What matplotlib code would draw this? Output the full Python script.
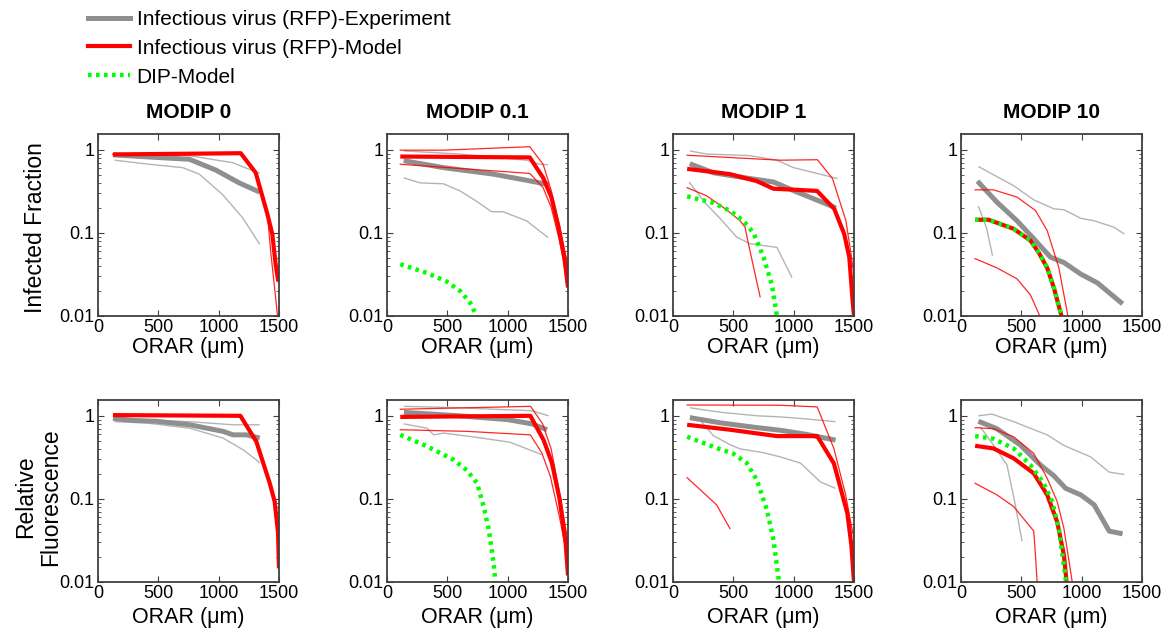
import matplotlib
matplotlib.use("Agg")
import matplotlib.pyplot as plt
from matplotlib.lines import Line2D
from matplotlib.ticker import FixedLocator, NullFormatter, LogLocator

plt.rcParams['font.family'] = ['Liberation Sans', 'DejaVu Sans']

# ---------------- data (x = ORAR in um, y = value) ----------------
col_titles = ["MODIP 0", "MODIP 0.1", "MODIP 1", "MODIP 10"]
row_labels = ["Infected Fraction", "Relative\nFluorescence"]
x_ticks = [0, 500, 1000, 1500]
y_ticks = [0.01, 0.1, 1]
y_tick_labels = ["0.01", "0.1", "1"]
legend_labels = ["Infectious virus (RFP)-Experiment",
                 "Infectious virus (RFP)-Model", "DIP-Model"]

# Row A: Infected Fraction
A0_exp_mean = [(124, 0.87), (482, 0.81), (757, 0.77), (977, 0.57), (1170, 0.40), (1340, 0.31)]
A0_exp_thin1 = [(138, 0.90), (757, 0.85), (1115, 0.70), (1340, 0.52)]
A0_exp_thin2 = [(138, 0.75), (427, 0.67), (702, 0.61), (839, 0.51), (1032, 0.29), (1197, 0.153), (1340, 0.073)]
A0_mod_mean = [(124, 0.88), (1183, 0.91), (1307, 0.53), (1404, 0.168), (1445, 0.096), (1472, 0.042), (1494, 0.026)]
A0_mod_thin1 = [(124, 0.88), (1183, 0.91), (1307, 0.53), (1404, 0.168), (1431, 0.06), (1488, 0.01)]
A0_mod_thin2 = [(124, 0.88), (1183, 0.91), (1307, 0.53), (1404, 0.168), (1445, 0.096), (1472, 0.042), (1494, 0.026)]
A0_dip = []

A1_exp_mean = [(138, 0.74), (468, 0.61), (881, 0.51), (1156, 0.43), (1307, 0.39), (1340, 0.38)]
A1_exp_thin1 = [(138, 0.97), (605, 0.89), (1156, 0.75), (1266, 0.67), (1335, 0.66)]
A1_exp_thin2 = [(138, 0.46), (275, 0.40), (468, 0.39), (605, 0.32), (743, 0.24), (867, 0.18), (960, 0.18), (1156, 0.14), (1335, 0.088)]
A1_mod_mean = [(110, 0.83), (1183, 0.81), (1294, 0.46), (1362, 0.27), (1420, 0.12), (1470, 0.05), (1500, 0.022)]
A1_mod_thin1 = [(110, 0.99), (468, 0.99), (1183, 1.09), (1294, 0.67), (1362, 0.32), (1430, 0.12), (1500, 0.04)]
A1_mod_thin2 = [(110, 0.67), (1183, 0.52), (1294, 0.35), (1362, 0.2), (1430, 0.08), (1500, 0.025)]
A1_dip = [(110, 0.042), (330, 0.033), (495, 0.026), (606, 0.020), (688, 0.0145), (743, 0.010)]

A2_exp_mean = [(139, 0.68), (333, 0.53), (556, 0.47), (833, 0.41), (1028, 0.31), (1250, 0.23), (1350, 0.20)]
A2_exp_thin1 = [(139, 0.97), (278, 0.89), (639, 0.85), (861, 0.75), (1000, 0.61), (1194, 0.52), (1364, 0.45)]
A2_exp_thin2 = [(133, 0.41), (278, 0.22), (389, 0.15), (528, 0.089), (639, 0.074), (861, 0.067), (986, 0.029)]
A2_mod_mean = [(117, 0.59), (472, 0.51), (694, 0.42), (833, 0.34), (1028, 0.33), (1194, 0.32), (1336, 0.195), (1419, 0.097), (1461, 0.051), (1489, 0.015), (1500, 0.01)]
A2_mod_thin1 = [(117, 0.86), (889, 0.75), (1197, 0.76), (1322, 0.45), (1433, 0.14), (1475, 0.056), (1500, 0.032)]
A2_mod_thin2 = [(117, 0.35), (278, 0.28), (444, 0.19), (556, 0.14), (597, 0.117), (625, 0.074), (722, 0.017)]
A2_dip = [(117, 0.275), (333, 0.23), (472, 0.185), (583, 0.14), (667, 0.10), (750, 0.051), (819, 0.024), (861, 0.01)]

A3_exp_mean = [(136, 0.42), (297, 0.235), (464, 0.14), (603, 0.085), (742, 0.051), (853, 0.044), (992, 0.032), (1131, 0.025), (1339, 0.014)]
A3_exp_thin1 = [(144, 0.63), (436, 0.37), (603, 0.25), (769, 0.195), (853, 0.19), (992, 0.15), (1103, 0.14), (1269, 0.117), (1353, 0.097)]
A3_exp_thin2 = [(144, 0.21), (214, 0.112), (261, 0.053)]
A3_mod_mean = [(117, 0.144), (228, 0.144), (436, 0.112), (575, 0.081), (644, 0.058), (714, 0.038), (769, 0.022), (833, 0.01)]
A3_mod_thin1 = [(117, 0.33), (269, 0.33), (464, 0.27), (617, 0.186), (714, 0.107), (811, 0.038), (886, 0.01)]
A3_mod_thin2 = [(117, 0.049), (297, 0.038), (464, 0.028), (575, 0.018), (653, 0.01)]
A3_dip = [(117, 0.144), (228, 0.144), (436, 0.112), (575, 0.081), (644, 0.058), (714, 0.038), (769, 0.022), (833, 0.01)]

# Row B: Relative Fluorescence
B0_exp_mean = [(124, 0.93), (290, 0.88), (483, 0.86), (760, 0.78), (1036, 0.65), (1119, 0.59), (1229, 0.59), (1340, 0.54)]
B0_exp_thin1 = [(138, 0.92), (760, 0.85), (1119, 0.78), (1340, 0.78)]
B0_exp_thin2 = [(138, 0.85), (400, 0.82), (760, 0.71), (1036, 0.54), (1202, 0.39), (1312, 0.295), (1340, 0.27)]
B0_mod_mean = [(124, 1.02), (1180, 1.0), (1312, 0.49), (1423, 0.155), (1464, 0.093), (1492, 0.039), (1500, 0.0146)]
B0_mod_thin1 = []
B0_mod_thin2 = []
B0_dip = []

B1_exp_mean = [(140, 1.1), (600, 1.0), (1000, 0.9), (1200, 0.8), (1326, 0.68)]
B1_exp_thin1 = [(140, 1.3), (600, 1.25), (1200, 1.15), (1340, 1.0)]
B1_exp_thin2 = [(138, 0.8), (331, 0.71), (387, 0.59), (470, 0.62), (746, 0.55), (1022, 0.48), (1284, 0.34)]
B1_mod_mean = [(110, 0.97), (1188, 1.0), (1298, 0.51), (1367, 0.27), (1430, 0.1), (1480, 0.03), (1500, 0.012)]
B1_mod_thin1 = [(110, 1.2), (1190, 1.3), (1290, 0.8), (1360, 0.4), (1440, 0.1), (1500, 0.03)]
B1_mod_thin2 = [(110, 0.68), (663, 0.65), (1188, 0.59), (1284, 0.355), (1354, 0.186), (1430, 0.06), (1500, 0.018)]
B1_dip = [(110, 0.59), (331, 0.43), (553, 0.295), (663, 0.22), (746, 0.155), (801, 0.081), (843, 0.043), (884, 0.0168), (898, 0.01)]

B2_exp_mean = [(140, 0.95), (400, 0.82), (700, 0.72), (889, 0.67), (1100, 0.6), (1347, 0.51)]
B2_exp_thin1 = [(140, 1.25), (400, 1.1), (700, 1.0), (889, 0.97), (1056, 0.93), (1347, 0.85)]
B2_exp_thin2 = [(140, 1.0), (220, 0.9), (278, 0.72), (333, 0.58), (472, 0.45), (556, 0.40), (750, 0.36), (889, 0.32), (1056, 0.27), (1222, 0.16), (1347, 0.134)]
B2_mod_mean = [(117, 0.78), (472, 0.68), (861, 0.57), (1195, 0.57), (1333, 0.268), (1445, 0.067), (1478, 0.028), (1500, 0.01)]
B2_mod_thin1 = [(117, 1.35), (889, 1.34), (1195, 1.28), (1333, 0.405), (1431, 0.112), (1472, 0.053), (1500, 0.034)]
B2_mod_thin2 = [(117, 0.18), (361, 0.085), (472, 0.044)]
B2_dip = [(117, 0.56), (361, 0.41), (500, 0.35), (611, 0.27), (694, 0.17), (778, 0.074), (833, 0.032), (875, 0.011), (880, 0.01)]

B3_exp_mean = [(144, 0.86), (297, 0.70), (492, 0.445), (658, 0.256), (769, 0.19), (867, 0.134), (992, 0.112), (1103, 0.085), (1228, 0.041), (1339, 0.038)]
B3_exp_thin1 = [(144, 1.0), (256, 1.05), (436, 0.85), (714, 0.59), (853, 0.44), (1075, 0.32), (1228, 0.21), (1353, 0.197)]
B3_exp_thin2 = [(158, 0.74), (269, 0.445), (381, 0.256), (450, 0.085), (506, 0.031)]
B3_mod_mean = [(117, 0.436), (269, 0.405), (436, 0.308), (603, 0.203), (714, 0.112), (797, 0.053), (853, 0.021), (875, 0.01)]
B3_mod_thin1 = [(117, 0.72), (269, 0.70), (436, 0.56), (603, 0.353), (714, 0.177), (797, 0.093), (853, 0.044), (922, 0.01)]
B3_mod_thin2 = [(117, 0.154), (297, 0.112), (436, 0.081), (603, 0.041), (617, 0.021), (631, 0.01)]
B3_dip = [(117, 0.57), (269, 0.53), (436, 0.405), (575, 0.256), (686, 0.154), (756, 0.093), (811, 0.044), (867, 0.011), (870, 0.01)]

panels = [
    [(A0_exp_mean, A0_exp_thin1, A0_exp_thin2, A0_mod_mean, A0_mod_thin1, A0_mod_thin2, A0_dip),
     (A1_exp_mean, A1_exp_thin1, A1_exp_thin2, A1_mod_mean, A1_mod_thin1, A1_mod_thin2, A1_dip),
     (A2_exp_mean, A2_exp_thin1, A2_exp_thin2, A2_mod_mean, A2_mod_thin1, A2_mod_thin2, A2_dip),
     (A3_exp_mean, A3_exp_thin1, A3_exp_thin2, A3_mod_mean, A3_mod_thin1, A3_mod_thin2, A3_dip)],
    [(B0_exp_mean, B0_exp_thin1, B0_exp_thin2, B0_mod_mean, B0_mod_thin1, B0_mod_thin2, B0_dip),
     (B1_exp_mean, B1_exp_thin1, B1_exp_thin2, B1_mod_mean, B1_mod_thin1, B1_mod_thin2, B1_dip),
     (B2_exp_mean, B2_exp_thin1, B2_exp_thin2, B2_mod_mean, B2_mod_thin1, B2_mod_thin2, B2_dip),
     (B3_exp_mean, B3_exp_thin1, B3_exp_thin2, B3_mod_mean, B3_mod_thin1, B3_mod_thin2, B3_dip)],
]

# ---------------- styles ----------------
W, H = 1163, 629
GRAY_THICK = '#8f8f8f'
GRAY_THIN = '#b4b4b4'
RED = '#ff0000'
GREEN = '#00ff00'
SPINE = '#404040'

fig = plt.figure(figsize=(W / 100, H / 100), dpi=100)

lefts_px = [98, 387, 673, 961]
width_px = 181
tops_px = [134, 400]
height_px = 182
xlabel_offset_px = [32, 35]


def xy(pts):
    return [p[0] for p in pts], [p[1] for p in pts]


def plot_line(ax, pts, **kw):
    if pts:
        xs, ys = xy(pts)
        ax.plot(xs, ys, **kw)


for r in range(2):
    for c in range(4):
        l = lefts_px[c] / W
        b = 1 - (tops_px[r] + height_px) / H
        ax = fig.add_axes([l, b, width_px / W, height_px / H])
        exp_mean, exp_t1, exp_t2, mod_mean, mod_t1, mod_t2, dip = panels[r][c]
        plot_line(ax, exp_t1, color=GRAY_THIN, lw=1.0, solid_capstyle='butt')
        plot_line(ax, exp_t2, color=GRAY_THIN, lw=1.0, solid_capstyle='butt')
        plot_line(ax, exp_mean, color=GRAY_THICK, lw=3.6, solid_capstyle='butt')
        plot_line(ax, mod_t1, color=RED, lw=0.9, alpha=0.85)
        plot_line(ax, mod_t2, color=RED, lw=0.9, alpha=0.85)
        plot_line(ax, mod_mean, color=RED, lw=3.0, solid_capstyle='butt')
        plot_line(ax, dip, color=GREEN, lw=3.2, linestyle=(0, (0.8, 1.0)),
                  dash_capstyle='butt')
        ax.set_yscale('log')
        ax.set_xlim(0, 1500)
        ax.set_ylim(0.01, 1.55)
        ax.xaxis.set_major_locator(FixedLocator(x_ticks))
        ax.set_xticklabels([str(t) for t in x_ticks])
        ax.yaxis.set_major_locator(FixedLocator(y_ticks))
        ax.set_yticklabels(y_tick_labels)
        ax.yaxis.set_minor_locator(LogLocator(base=10, subs=range(2, 10)))
        ax.yaxis.set_minor_formatter(NullFormatter())
        ax.tick_params(which='both', direction='in', top=True, right=True,
                       color=SPINE, labelsize=13, pad=2.5)
        ax.tick_params(which='major', length=4, width=0.8)
        ax.tick_params(which='minor', length=2.5, width=0.6)
        for s in ax.spines.values():
            s.set_color(SPINE)
            s.set_linewidth(1.3)
        cx = (lefts_px[c] + width_px / 2) / W
        if r == 0:
            fig.text(cx, 1 - 112 / H, col_titles[c], ha='center', va='center',
                     fontsize=15, fontweight='bold')
        fig.text(cx, 1 - (tops_px[r] + height_px + xlabel_offset_px[r]) / H,
                 "ORAR (\u03bcm)", ha='center', va='center', fontsize=15.5)

fig.text(36 / W, 1 - 228 / H, row_labels[0], rotation=90, ha='center',
         va='center', fontsize=16.5)
fig.text(38 / W, 1 - 497 / H, row_labels[1], rotation=90, ha='center',
         va='center', fontsize=16.5, multialignment='center', linespacing=1.1)

handles = [Line2D([], [], color=GRAY_THICK, lw=3.6),
           Line2D([], [], color=RED, lw=3.0),
           Line2D([], [], color=GREEN, lw=3.2, linestyle=(0, (0.8, 1.0)))]
fig.legend(handles, legend_labels, loc='upper left',
           bbox_to_anchor=(88 / W, 1 - 10 / H), frameon=False, fontsize=15,
           handlelength=2.0, handletextpad=0.34, labelspacing=0.47,
           borderpad=0.0, borderaxespad=0.0)

fig.savefig('out.png', dpi=100)
